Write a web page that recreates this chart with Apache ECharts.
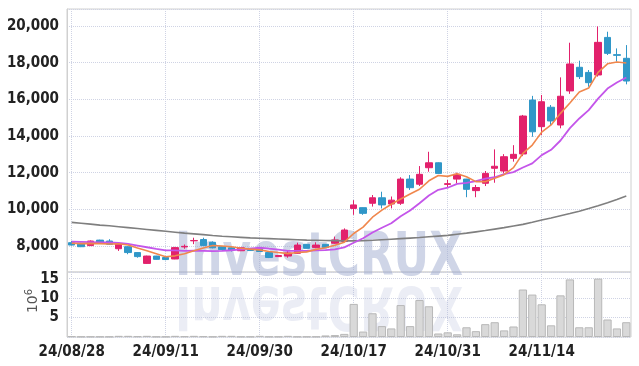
<!DOCTYPE html>
<html>
<head>
<meta charset="utf-8">
<script src="https://cdn.jsdelivr.net/npm/echarts@6/dist/echarts.min.js"></script>
<style>
html,body{margin:0;padding:0;background:#fff;}
#chart{width:639px;height:366px;}
</style>
</head>
<body>
<div id="chart"></div>
<script>
const dates = ['24/08/28','24/08/29','24/08/30','24/09/02','24/09/03','24/09/04','24/09/05','24/09/06','24/09/09','24/09/10',
'24/09/11','24/09/12','24/09/13','24/09/19','24/09/20','24/09/23','24/09/24','24/09/25','24/09/26','24/09/27',
'24/09/30','24/10/02','24/10/04','24/10/07','24/10/08','24/10/10','24/10/11','24/10/14','24/10/15','24/10/16',
'24/10/17','24/10/18','24/10/21','24/10/22','24/10/23','24/10/24','24/10/25','24/10/28','24/10/29','24/10/30',
'24/10/31','24/11/01','24/11/04','24/11/05','24/11/06','24/11/07','24/11/08','24/11/11','24/11/12','24/11/13',
'24/11/14','24/11/15','24/11/18','24/11/19','24/11/20','24/11/21','24/11/22','24/11/25','24/11/26','24/11/27'];

const openP = [8180,8150,8020,8320,8270,7850,7960,7640,7050,7450,7370,7290,7950,8280,8350,8200,7960,7900,7740,7870,
7870,7640,7420,7450,7600,8090,7910,8090,8150,8240,10050,10090,10330,10630,10290,10330,11650,11370,12270,12540,
11360,11650,11650,11020,11420,12240,12090,12780,13020,15960,14510,15570,14600,16460,17750,17470,17330,19380,18440,18240];
const closeP = [8050,7960,8270,8180,8090,8090,7640,7420,7450,7270,7260,7910,7980,8300,8020,7900,7800,7780,7900,7750,
7700,7370,7480,7620,8050,7870,8050,7910,8330,8870,10240,9780,10630,10240,10500,11650,11180,11910,12540,11960,
11400,11910,11090,11190,11960,12350,12870,13000,15090,14230,15870,14820,16170,17930,17240,16910,19110,18510,18400,17000];
const lowP = [8030,7940,8000,8170,8070,7730,7550,7360,7030,7250,7220,7280,7850,8100,8000,7870,7770,7700,7720,7730,
7680,7340,7400,7360,7580,7860,7880,7890,8120,8220,9700,9700,10150,10050,10050,10240,11060,11270,12050,11950,
11150,11420,10660,10660,11270,11450,11960,12600,12900,13960,14060,14600,14420,16300,17110,16690,17240,18420,18060,16820];
const highP = [8280,8170,8300,8340,8370,8180,7980,7660,7470,7460,7380,7950,8080,8450,8450,8250,7980,7930,7920,7890,
7890,7650,7500,7780,8180,8100,8200,8100,8510,8960,10500,10100,10780,10960,10700,11750,11870,12360,13140,12560,
11600,12000,11660,11330,12090,13270,13010,13500,15150,16190,16240,15690,17200,19090,18110,17600,19980,19690,18780,18960];

const ma5 = [8150,8130,8140,8130,8110,8118,8054,7884,7738,7574,7408,7462,7574,7744,7894,8022,8000,7960,7880,7826,
7786,7700,7640,7584,7644,7678,7814,7900,8042,8206,8680,9026,9570,9952,10278,10560,10840,11096,11556,11848,
11798,11944,11780,11510,11510,11700,11892,12274,13054,13508,14212,14602,15236,15804,16406,16614,17472,17940,18034,17986];
const ma10 = [8230,8220,8210,8200,8190,8170,8110,8020,7930,7842,7763,7758,7729,7741,7734,7715,7731,7767,7812,7860,
7904,7850,7800,7732,7735,7732,7757,7770,7813,7925,8179,8420,8735,8997,9242,9620,9933,10333,10754,11063,
11179,11392,11438,11533,11679,11749,11918,12027,12282,12509,12956,13247,13755,14429,14957,15413,16037,16588,16919,17196];
const ma60 = [9290,9240,9190,9140,9100,9050,9000,8950,8900,8850,8800,8750,8700,8660,8620,8570,8530,8500,8470,8440,
8420,8400,8380,8360,8340,8320,8310,8300,8290,8280,8280,8290,8310,8340,8370,8400,8430,8460,8500,8540,
8580,8640,8700,8770,8840,8920,9000,9090,9180,9290,9420,9530,9650,9770,9900,10040,10190,10360,10540,10730];

// volume in millions of shares
const volume = [0.2,0.1,0.1,0.1,0.1,0.3,0.3,0.2,0.3,0.1,0.1,0.3,0.2,0.3,0.2,0.1,0.3,0.3,0.1,0.1,
0.3,0.1,0.1,0.3,0.1,0.1,0.1,0.4,0.5,0.8,8.5,1.4,6.1,2.8,2.2,8.2,2.8,9.5,7.9,0.9,
1.2,0.7,2.5,1.5,3.3,3.8,1.7,2.7,12.2,10.9,8.4,3.0,10.7,14.8,2.5,2.5,15.0,4.5,2.2,3.8];

const FONT = '"Liberation Sans Narrow","DejaVu Sans Condensed",sans-serif';
const UP = '#e2216c', DOWN = '#3097c8';
const gridLine = {show:true, lineStyle:{type:'dotted', color:'#cfd3e4', width:1}};

const chart = echarts.init(document.getElementById('chart'), null, {renderer:'canvas'});
chart.setOption({
  animation:false,
  backgroundColor:'#fff',
  grid:[
    {left:67, right:8, top:9, height:263, show:true, borderColor:'#d0d0d0', borderWidth:1},
    {left:67, right:8, top:272, height:65, show:true, borderColor:'#d0d0d0', borderWidth:1}
  ],
  xAxis:[
    {type:'category', gridIndex:0, data:dates, boundaryGap:true,
     axisLine:{show:false}, axisTick:{show:false}, axisLabel:{show:false},
     splitLine:Object.assign({interval:9, alignWithLabel:true}, gridLine)},
    {type:'category', gridIndex:1, data:dates, boundaryGap:true,
     axisLine:{show:false}, axisTick:{show:false},
     axisLabel:{show:true, interval:9, margin:8, color:'#222', fontSize:15, fontWeight:'bold', fontFamily:FONT},
     splitLine:Object.assign({interval:9, alignWithLabel:true}, gridLine)}
  ],
  yAxis:[
    {type:'value', gridIndex:0, min:6580, max:20930, splitNumber:7,
     axisLine:{show:true, lineStyle:{color:'#d0d0d0'}}, axisTick:{show:false},
     axisLabel:{showMinLabel:false, showMaxLabel:false, margin:8, color:'#222', fontSize:15, fontWeight:'bold', fontFamily:FONT,
       formatter:v => (v % 2000 === 0 ? v.toLocaleString('en-US') : '')},
     splitLine:gridLine},
    {type:'value', gridIndex:1, min:0, max:16.7, interval:5,
     axisLine:{show:true, lineStyle:{color:'#d0d0d0'}}, axisTick:{show:false},
     axisLabel:{showMinLabel:false, showMaxLabel:false, margin:8, color:'#222', fontSize:15, fontWeight:'bold', fontFamily:FONT,
       formatter:v => (v % 5 === 0 && v > 0 ? String(v) : '')},
     splitLine:gridLine}
  ],
  graphic:[
    {type:'text', x:175, y:259, scaleX:0.73, z:1, silent:true,
     style:{text:'InvestCRUX', font:'bold 60px "DejaVu Sans"', fill:'rgba(160,172,208,0.5)', verticalAlign:'middle', align:'left'}},
    {type:'text', x:175, y:303, scaleX:0.73, scaleY:-1, z:1, silent:true,
     style:{text:'InvestCRUX', font:'bold 60px "DejaVu Sans"', fill:'rgba(175,185,215,0.25)', verticalAlign:'middle', align:'left'}},
    {type:'text', x:33, y:301, rotation:Math.PI/2, z:5, silent:true,
     style:{text:'{a|10}{b|6}', align:'center', verticalAlign:'middle',
       rich:{a:{fontSize:14, fill:'#555', fontFamily:'"DejaVu Sans"'}, b:{fontSize:10, fill:'#555', fontFamily:'"DejaVu Sans"', verticalAlign:'top', padding:[0,0,8,0]}}}}
  ],
  series:[
    {type:'candlestick', xAxisIndex:0, yAxisIndex:0, barWidth:'72%', z:3,
     data:dates.map((d,i)=>[openP[i], closeP[i], lowP[i], highP[i]]),
     itemStyle:{color:UP, color0:DOWN, borderColor:UP, borderColor0:DOWN, borderWidth:1}},
    {type:'line', xAxisIndex:0, yAxisIndex:0, data:ma60, showSymbol:false, symbol:'none', z:4,
     lineStyle:{color:'#7f7f7f', width:1.6}},
    {type:'line', xAxisIndex:0, yAxisIndex:0, data:ma10, showSymbol:false, symbol:'none', z:4,
     lineStyle:{color:'#c455ea', width:1.8}},
    {type:'line', xAxisIndex:0, yAxisIndex:0, data:ma5, showSymbol:false, symbol:'none', z:4,
     lineStyle:{color:'#f0874d', width:1.6}},
    {type:'bar', xAxisIndex:1, yAxisIndex:1, data:volume, barCategoryGap:'12%', z:3,
     itemStyle:{color:'#d9d9d9', borderColor:'#b8b8b8', borderWidth:1}}
  ]
});
</script>
</body>
</html>
